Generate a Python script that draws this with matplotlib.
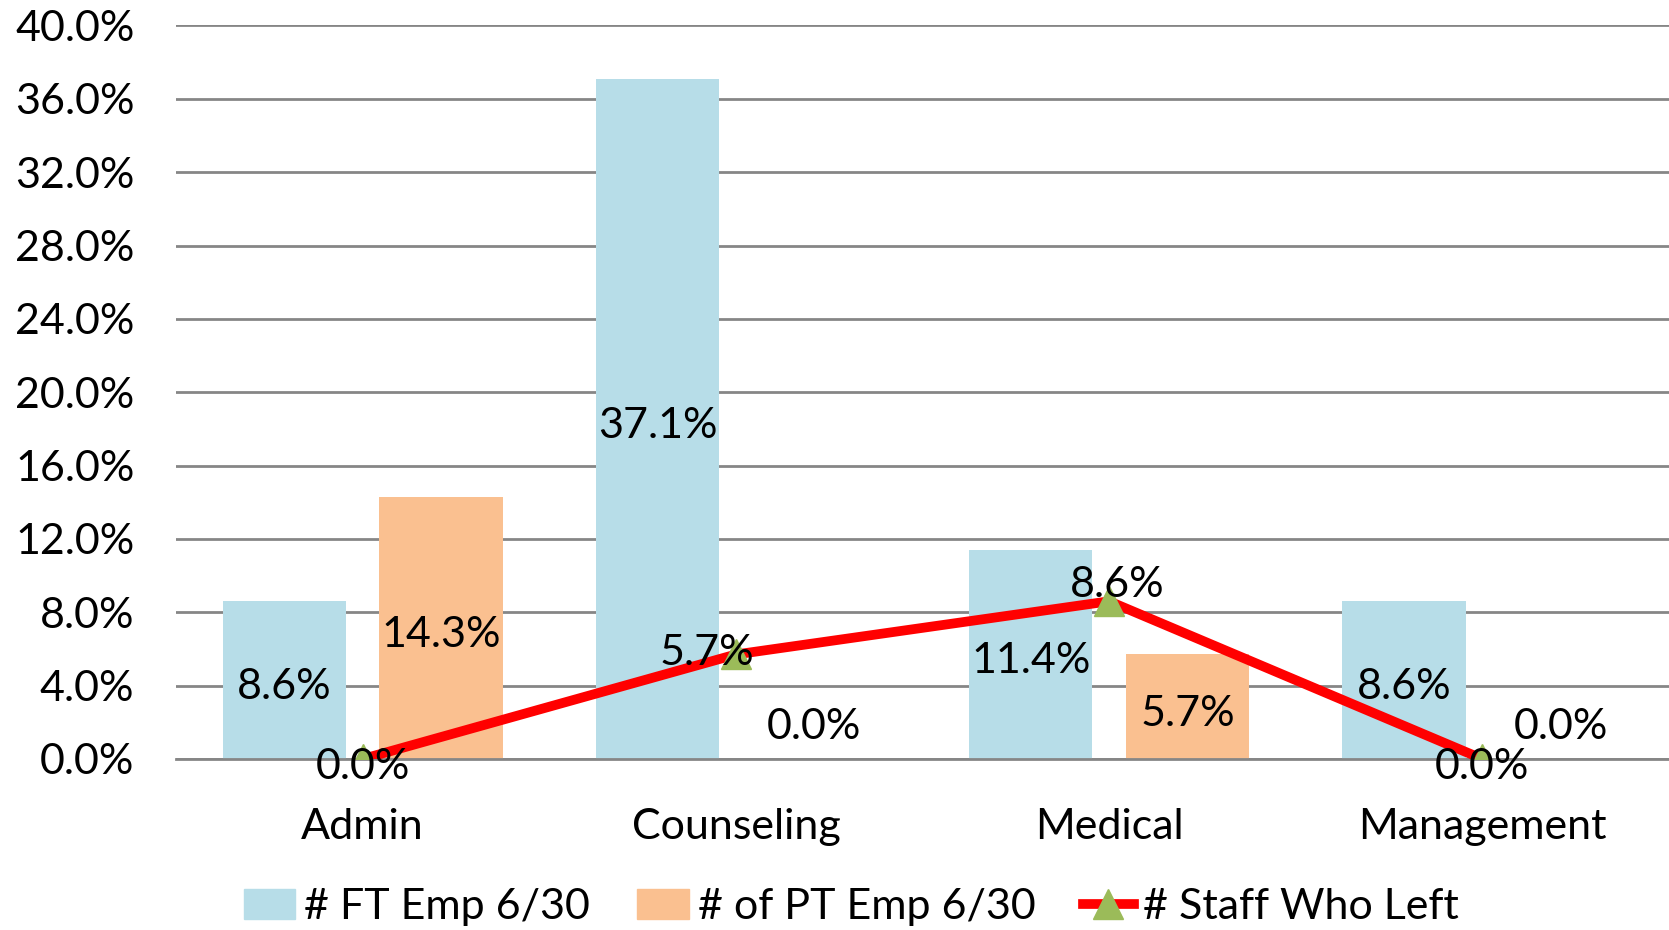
import numpy as np
import matplotlib.pyplot as plt
from matplotlib.patches import Patch
from matplotlib.lines import Line2D

categories = ["Admin", "Counseling", "Medical", "Management"]
ft_emp = [0.086, 0.371, 0.114, 0.086]
pt_emp = [0.143, 0.000, 0.057, 0.000]
staff_left = [0.000, 0.057, 0.086, 0.000]
yticks = [0.0, 0.04, 0.08, 0.12, 0.16, 0.20, 0.24, 0.28, 0.32, 0.36, 0.40]

ft_color = "#B7DDE8"
pt_color = "#FAC090"
line_color = "#FF0000"
marker_color = "#9BBB59"
grid_color = "#868686"

plt.rcParams['font.family'] = ['Lato', 'DejaVu Sans']
fs = 31

fig = plt.figure(figsize=(16.69, 9.30), dpi=100)
ax = fig.add_axes([0.1055, 0.1839, 0.8945, 0.7887])

x = np.arange(len(categories))
w = 0.33
off = 0.21
ax.bar(x - off, ft_emp, w, color=ft_color, zorder=2)
ax.bar(x + off, pt_emp, w, color=pt_color, zorder=2)
ax.plot(x, staff_left, color=line_color, lw=7, zorder=3, solid_capstyle='butt')
ax.plot(x, staff_left, ls='none', marker='^', ms=21, color=marker_color, zorder=4)

# bar labels, centred in the bar (zero bars float a little above the axis)
for i in range(len(categories)):
    for xs, v in ((x[i] - off, ft_emp[i]), (x[i] + off, pt_emp[i])):
        yy = v / 2 if v > 0 else 0.019
        ax.annotate(f"{v*100:.1f}%", (xs, yy), xytext=(0, -2 if v == 0 else -5),
                    textcoords='offset points', ha='center', va='center', fontsize=fs, zorder=5)

# line labels
line_offsets = [(0, -6), (-21, 1), (6, 12), (0, -6)]
for i, v in enumerate(staff_left):
    ax.annotate(f"{v*100:.1f}%", (x[i], v), xytext=line_offsets[i], textcoords='offset points',
                ha='center', va='center', fontsize=fs, zorder=5)

ax.set_xlim(-0.5, 3.5)
ax.set_ylim(0, 0.4)
ax.set_yticks(yticks)
ax.set_yticklabels([f"{t*100:.1f}%" for t in yticks])
ax.set_xticks(x)
ax.set_xticklabels(categories)
ax.tick_params(axis='y', length=0, pad=30, labelsize=fs)
ax.tick_params(axis='x', length=0, pad=35, labelsize=fs)
ax.yaxis.grid(True, color=grid_color, lw=2)
ax.set_axisbelow(True)
for s in ['top', 'right', 'left']:
    ax.spines[s].set_visible(False)
ax.spines['bottom'].set_color(grid_color)
ax.spines['bottom'].set_linewidth(2)

handles = [
    Patch(color=ft_color, label="# FT Emp 6/30"),
    Patch(color=pt_color, label="# of PT Emp 6/30"),
    Line2D([], [], color=line_color, lw=7, marker='^', ms=21, mfc=marker_color, mec=marker_color,
           label="# Staff Who Left"),
]
fig.legend(handles=handles, loc='center', bbox_to_anchor=(0.51, 0.025), ncol=3, frameon=False,
           fontsize=fs, handlelength=1.2, handleheight=0.7, handletextpad=0.2, columnspacing=1.1)

fig.savefig("out.png", dpi=100)
